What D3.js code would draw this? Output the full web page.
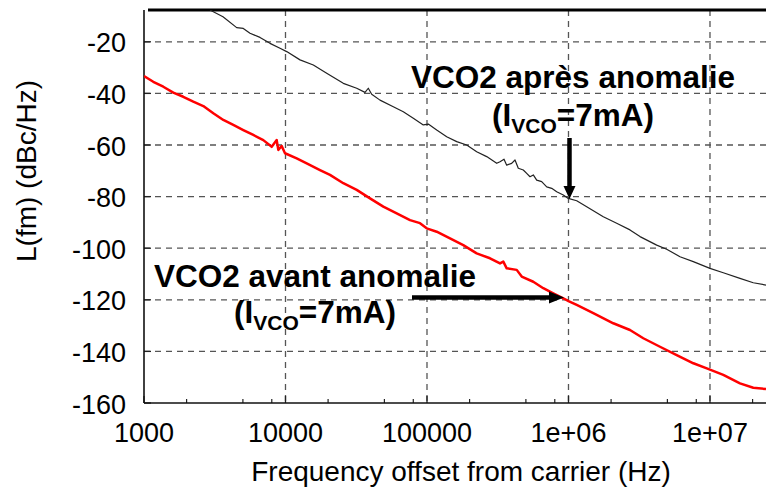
<!DOCTYPE html>
<html>
<head>
<meta charset="utf-8">
<script src="https://cdn.jsdelivr.net/npm/d3@7"></script>
<style>
  html, body { margin: 0; padding: 0; background: #fff; }
  svg { display: block; }
  text { font-family: "Liberation Sans", Arial, Helvetica, sans-serif; }
</style>
</head>
<body>
<svg id="chart" width="766" height="493"></svg>
<script>
// ---------------- data ----------------
const blackFreq = [2927, 3616, 4519, 5032, 5613, 6604, 7771, 9144, 10197, 12664, 15726, 19550, 25620, 31860, 36470, 38470, 40660, 46540, 57790, 68000, 80050, 94170, 102100, 117100, 137800, 162200, 190800, 224500, 264200, 310900, 328100, 350200, 365900, 396700, 418800, 441800, 479200, 506500, 534600, 563900, 596000, 646500, 701500, 760800, 825400, 919000, 996800, 1143000, 1345000, 1762000, 2191000, 2720000, 3202000, 4201000, 4943000, 6138000, 7621000, 10000000, 12420000, 16290000, 20230000, 24880000];
const blackDb = [-7.7, -10.3, -14.5, -14.8, -16.7, -18.3, -20.6, -22.5, -23.8, -27.0, -29.0, -32.2, -36.1, -38.0, -39.6, -38.0, -40.3, -42.6, -45.2, -47.1, -49.6, -52.2, -51.9, -54.2, -56.8, -58.7, -60.0, -62.6, -64.5, -67.1, -66.5, -65.5, -67.8, -67.1, -65.8, -69.0, -69.7, -71.0, -72.3, -71.6, -73.6, -74.2, -76.2, -76.8, -78.1, -79.4, -80.7, -81.6, -83.9, -87.8, -90.3, -92.9, -95.5, -98.8, -100.4, -103.3, -105.2, -107.8, -109.5, -111.7, -113.4, -114.3];

const redFreq = [1000, 1163, 1369, 1611, 1895, 2230, 2625, 3089, 3635, 4277, 5032, 5922, 6968, 7990, 8665, 8895, 9400, 9920, 12000, 14120, 17530, 20630, 25620, 31860, 39550, 49120, 61080, 75860, 89240, 99510, 117100, 145400, 180500, 224500, 278700, 328100, 346200, 365900, 430600, 467000, 563900, 663500, 780900, 919000, 1000000, 1143000, 1497000, 2073000, 2720000, 3378000, 4433000, 5818000, 7633000, 9493000, 12420000, 16290000, 20230000, 24880000];
const redDb = [-33.3, -35.5, -37.4, -39.7, -41.3, -43.2, -44.9, -47.7, -50.3, -52.2, -54.2, -56.1, -58.1, -60.7, -58.1, -61.9, -60.4, -63.2, -65.2, -67.1, -69.7, -71.6, -74.8, -77.4, -80.7, -83.9, -86.5, -89.1, -90.3, -92.3, -93.6, -96.2, -98.8, -102.0, -103.9, -105.9, -105.2, -107.8, -108.4, -111.0, -113.0, -115.5, -117.5, -119.4, -120.5, -122.0, -125.2, -129.1, -131.7, -134.9, -138.2, -141.4, -144.6, -146.6, -149.1, -152.4, -154.1, -154.6];

const xTicks = [1000, 10000, 100000, 1000000, 10000000];
const xTickLabels = ["1000", "10000", "100000", "1e+06", "1e+07"];
const xMinorMult = [2, 5, 8];
const yTicks = [-160, -140, -120, -100, -80, -60, -40, -20];
const yTickLabels = ["-160", "-140", "-120", "-100", "-80", "-60", "-40", "-20"];

const xTitle = "Frequency offset from carrier (Hz)";
const yTitle = "L(fm) (dBc/Hz)";
const annotAfter = "VCO2 après anomalie";
const annotBefore = "VCO2 avant anomalie";
const annotSub = ["(I", "VCO", "=7mA)"];

// ---------------- layout ----------------
const L = 144, R = 766, T = 10, B = 403;
const svg = d3.select("#chart");
const x = d3.scaleLog().domain([1000, 2.488e7]).range([L, R]);
const y = d3.scaleLinear().domain([-160, -7.67]).range([B, T]);

svg.append("defs").append("clipPath").attr("id", "clip")
  .append("rect").attr("x", L).attr("y", T).attr("width", R - L).attr("height", B - T);

// grid
const gridColor = "#555";
const g = svg.append("g");
g.selectAll(".vg").data(xTicks.slice(1)).enter().append("line")
  .attr("x1", d => x(d)).attr("x2", d => x(d)).attr("y1", T).attr("y2", B)
  .attr("stroke", gridColor).attr("stroke-width", 1.3).attr("stroke-dasharray", "6,5");
g.selectAll(".hg").data(yTicks.slice(1)).enter().append("line")
  .attr("x1", L).attr("x2", R).attr("y1", d => y(d)).attr("y2", d => y(d))
  .attr("stroke", gridColor).attr("stroke-width", 1.3).attr("stroke-dasharray", "6,5");

// minor x ticks
const minors = [];
xTicks.forEach(t => xMinorMult.forEach(m => { const v = t * m; if (v <= x.domain()[1]) minors.push(v); }));
g.selectAll(".mt").data(minors).enter().append("line")
  .attr("x1", d => x(d)).attr("x2", d => x(d)).attr("y1", B).attr("y2", B - 4)
  .attr("stroke", "#222").attr("stroke-width", 1.2);
g.selectAll(".Mt").data(xTicks).enter().append("line")
  .attr("x1", d => x(d)).attr("x2", d => x(d)).attr("y1", B).attr("y2", B - 7)
  .attr("stroke", "#222").attr("stroke-width", 1.3);
g.selectAll(".Yt").data(yTicks).enter().append("line")
  .attr("x1", L).attr("x2", L + 7).attr("y1", d => y(d)).attr("y2", d => y(d))
  .attr("stroke", "#222").attr("stroke-width", 1.3);

// axes lines
svg.append("line").attr("x1", L).attr("x2", L).attr("y1", T).attr("y2", B)
  .attr("stroke", "#111").attr("stroke-width", 1.6);
svg.append("line").attr("x1", L).attr("x2", R).attr("y1", B).attr("y2", B)
  .attr("stroke", "#111").attr("stroke-width", 1.6);
svg.append("line").attr("x1", L + 4).attr("x2", R).attr("y1", T).attr("y2", T)
  .attr("stroke", "#000").attr("stroke-width", 3);

// curves
const line = d3.line().x(d => x(d[0])).y(d => y(d[1]));
const redData = redFreq.map((f, i) => [f, redDb[i]]);
const blackData = blackFreq.map((f, i) => [f, blackDb[i]]);
const curves = svg.append("g").attr("clip-path", "url(#clip)");
curves.append("path").datum(redData).attr("d", line)
  .attr("fill", "none").attr("stroke", "#ff0000").attr("stroke-width", 2.5).attr("stroke-linejoin", "round");
curves.append("path").datum(blackData).attr("d", line)
  .attr("fill", "none").attr("stroke", "#222").attr("stroke-width", 1.2).attr("stroke-linejoin", "round");

// tick labels
svg.selectAll(".xl").data(xTicks).enter().append("text")
  .attr("x", d => x(d)).attr("y", 442).attr("text-anchor", "middle")
  .attr("font-size", 27).attr("fill", "#000").text((d, i) => xTickLabels[i]);
svg.selectAll(".yl").data(yTicks).enter().append("text")
  .attr("x", 126).attr("y", d => y(d) + 10.5).attr("text-anchor", "end")
  .attr("font-size", 27).attr("fill", "#000").text((d, i) => yTickLabels[i]);

// axis titles
svg.append("text").attr("x", 461).attr("y", 481).attr("text-anchor", "middle")
  .attr("font-size", 28).attr("fill", "#000").text(xTitle);
svg.append("text").attr("transform", "translate(36,171) rotate(-90)").attr("text-anchor", "middle")
  .attr("font-size", 28).attr("fill", "#000").text(yTitle);

// annotations
function annot(cx, y1, y2, label) {
  svg.append("text").attr("x", cx).attr("y", y1).attr("text-anchor", "middle")
    .attr("font-size", 31.5).attr("font-weight", "bold").attr("fill", "#000").text(label);
  const t = svg.append("text").attr("x", cx).attr("y", y2).attr("text-anchor", "middle")
    .attr("font-size", 31.5).attr("font-weight", "bold").attr("fill", "#000");
  t.append("tspan").text(annotSub[0]);
  t.append("tspan").attr("font-size", 21).attr("dy", 7).text(annotSub[1]);
  t.append("tspan").attr("dy", -7).text(annotSub[2]);
}
annot(573, 88, 126, annotAfter);
annot(315, 287, 323, annotBefore);

// arrows
const ax = x(1e6);
svg.append("line").attr("x1", ax + 1).attr("x2", ax + 1).attr("y1", 138).attr("y2", 188)
  .attr("stroke", "#000").attr("stroke-width", 4.5);
svg.append("path").attr("d", `M${ax - 5},186 L${ax + 7},186 L${ax + 1},199 Z`).attr("fill", "#000");
svg.append("line").attr("x1", 412).attr("x2", 552).attr("y1", 297.5).attr("y2", 297.5)
  .attr("stroke", "#000").attr("stroke-width", 4.5);
svg.append("path").attr("d", `M549,291.5 L549,303.5 L564,297.5 Z`).attr("fill", "#000");
</script>
</body>
</html>
